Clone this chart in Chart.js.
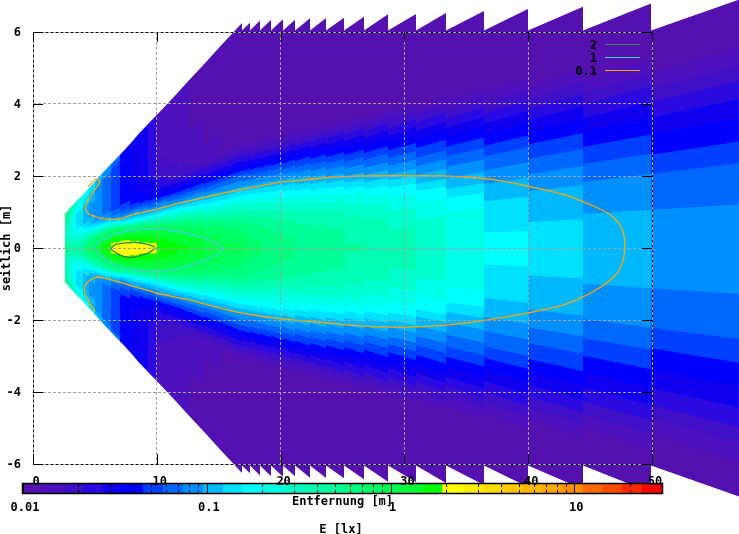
<!DOCTYPE html>
<html>
<head>
<meta charset="utf-8">
<title>Beleuchtungsstaerke</title>
<script src="https://cdn.jsdelivr.net/npm/chart.js@4/dist/chart.umd.min.js"></script>
<style>
    html, body { margin: 0; padding: 0; background: #fff; }
    canvas { display: block; }
</style>
</head>
<body>
<canvas id="lightChart" width="739" height="534"></canvas>
<script>
// column edges along the road [m]
const columnEdges = [2.55, 3, 3.5, 4, 4.5, 5, 5.6, 6.3, 7, 7.8, 8.6, 9.3, 10, 10.8, 11.6, 12.6, 13.8, 15.2, 16.9,
    17.5, 18.3, 19.2, 20.2, 21.2, 22.4, 23.7, 25.1, 26.7, 28.7, 30.9, 33.4, 36.4, 40, 44.4, 49.9, 57];

// rays y/x the columns are sampled on, the lower half is a bit wider than the upper
const raysUp = [0, .01, .02, .03, .04, .05, .06, .07, .08, .09, .10, .12, .14, .17, .20, .25, .30, .37];
const raysDown = [0, .011, .021, .032, .043, .054, .064, .075, .086, .096, .107, .128, .15, .182, .214, .267, .32, .37];

// E [lx] per column (one row = one column, one entry = one ray)
const luxByColumn = [
    [.55, .54, .52, .5, .48, .46, .44, .42, .4, .38, .36, .34, .33, .33, .34, .38, .45, .6],
    [.42, .41, .4, .38, .36, .34, .32, .3, .28, .27, .25, .23, .21, .2, .2, .21, .25, .38],
    [.45, .44, .42, .4, .38, .35, .32, .3, .27, .25, .23, .19, .165, .15, .14, .14, .17, .28],
    [.6, .58, .55, .52, .47, .43, .39, .35, .3, .26, .23, .17, .14, .118, .106, .103, .125, .2],
    [.85, .82, .78, .72, .65, .58, .5, .43, .36, .3, .25, .16, .12, .1, .09, .09, .105, .15],
    [1.22, 1.18, 1.1, 1, .88, .75, .62, .5, .4, .31, .24, .14, .1, .082, .075, .075, .085, .105],
    [1.65, 1.6, 1.45, 1.3, 1.15, 1, .85, .68, .52, .38, .27, .14, .09, .068, .06, .06, .068, .08],
    [2.25, 2.2, 2, 1.75, 1.5, 1.25, 1.03, .8, .58, .38, .24, .105, .07, .053, .048, .048, .052, .06],
    [2.45, 2.4, 2.2, 1.85, 1.5, 1.25, 1.05, .78, .5, .28, .16, .085, .06, .045, .04, .038, .04, .045],
    [2.4, 2.3, 2.05, 1.7, 1.4, 1.25, 1.03, .68, .4, .22, .14, .092, .05, .038, .033, .032, .03, .03],
    [2.15, 2.05, 1.85, 1.6, 1.35, 1.15, .9, .6, .36, .2, .13, .08, .047, .034, .03, .03, .028, .028],
    [2.05, 2, 1.8, 1.5, 1.27, 1.08, .82, .54, .33, .19, .125, .07, .045, .03, .027, .027, .026, .026],
    [1.8, 1.7, 1.55, 1.4, 1.25, 1.05, .75, .48, .3, .19, .125, .078, .04, .024, .019, .016, .015, .015],
    [1.65, 1.58, 1.42, 1.25, 1.07, .88, .65, .43, .28, .18, .125, .068, .038, .021, .017, .015, .014, .014],
    [1.52, 1.45, 1.32, 1.15, .97, .78, .58, .4, .27, .175, .12, .064, .036, .019, .015, .014, .013, .013],
    [1.35, 1.28, 1.15, 1, .85, .68, .5, .35, .24, .16, .115, .062, .034, .017, .014, .013, .012, .012],
    [1.15, 1.08, .98, .85, .71, .56, .42, .3, .21, .145, .105, .058, .032, .015, .013, .012, .011, .011],
    [.95, .9, .83, .74, .63, .5, .38, .28, .2, .14, .1, .058, .03, .013, .011, .01, .0094, .009],
    [.82, .78, .72, .645, .56, .45, .35, .265, .19, .135, .095, .055, .027, .012, .01, .0088, .008, .0078],
    [.76, .725, .666, .6, .525, .42, .33, .255, .18, .13, .092, .052, .025, .011, .0094, .0081, .0075, .0072],
    [.7, .67, .615, .55, .48, .39, .305, .24, .172, .122, .088, .048, .023, .01, .0085, .0074, .0068, .0065],
    [.65, .62, .565, .51, .44, .355, .28, .216, .16, .115, .082, .044, .021, .009, .0077, .0067, .0062, .0059],
    [.6, .57, .52, .47, .41, .33, .26, .196, .145, .107, .077, .04, .019, .0082, .007, .0061, .0056, .0054],
    [.55, .53, .49, .44, .38, .31, .24, .18, .13, .097, .069, .036, .017, .0074, .0063, .0055, .0051, .0048],
    [.5, .49, .46, .42, .36, .29, .225, .16, .117, .087, .062, .032, .015, .0066, .0057, .0049, .0045, .0043],
    [.47, .46, .44, .39, .34, .28, .21, .15, .104, .077, .055, .029, .0134, .0059, .005, .0044, .004, .0039],
    [.43, .42, .4, .36, .31, .25, .19, .13, .092, .069, .049, .025, .012, .0052, .0045, .0039, .0036, .0034],
    [.39, .38, .365, .33, .28, .22, .165, .115, .081, .06, .043, .022, .0104, .0046, .0039, .0034, .0031, .003],
    [.345, .34, .33, .285, .24, .195, .15, .098, .072, .052, .037, .019, .009, .0039, .0034, .0029, .0027, .0026],
    [.28, .275, .27, .25, .205, .165, .11, .084, .06, .045, .032, .0165, .0078, .0034, .0029, .0025, .0023, .0022],
    [.225, .222, .215, .203, .165, .12, .09, .07, .051, .038, .027, .014, .0066, .0029, .0025, .0021, .002, .0019],
    [.167, .159, .146, .132, .115, .093, .073, .058, .042, .032, .023, .012, .0055, .0024, .002, .0018, .0016, .0016],
    [.136, .13, .12, .108, .094, .076, .06, .047, .035, .026, .0185, .0095, .0045, .002, .0017, .0015, .0013, .0013],
    [.11, .105, .096, .087, .076, .061, .048, .038, .028, .021, .015, .0077, .0036, .0016, .0014, .0012, .0011, .001],
    [.085, .081, .075, .067, .059, .047, .038, .029, .022, .016, .012, .006, .003, .0012, .001, .001, .001, .001]
];

// contour lines, [x, y]
const contourTwo = [[6.3, 0], [6.7, .1], [7.5, .14], [8.2, .16], [9, .12], [9.6, .06], [9.8, 0], [9.6, -.08], [9, -.18],
    [8.2, -.25], [7.5, -.25], [6.9, -.17], [6.4, -.06], [6.3, 0]];
const contourOne = [[5, 0], [5.3, .15], [6, .3], [7, .42], [8, .5], [9, .53], [10, .53], [11, .5], [12, .45], [13, .37],
    [14, .26], [15, .1], [15.3, 0], [15, -.15], [14, -.33], [13, -.45], [12, -.55], [11, -.62], [10, -.65], [9, -.65],
    [8, -.6], [7, -.5], [6, -.35], [5.3, -.18], [5, 0]];
const contourTenth = [[4.45, 1.7], [5.1, 1.92], [5.4, 1.83], [4.8, 1.52], [4.4, 1.28], [4.2, 1.15], [4.4, .97], [5.5, .83],
    [6.8, .8], [8.2, .94], [10, 1.08], [11.5, 1.22], [12.7, 1.31], [13.5, 1.38], [16.2, 1.58], [20, 1.83], [21.6, 1.88],
    [24.3, 1.97], [26.7, 2], [29.7, 2.01], [33.1, 2], [36.1, 1.94], [37.7, 1.87], [40, 1.72], [42.9, 1.48], [45.3, 1.16],
    [46.5, .95], [47.3, .69], [47.7, .41], [47.8, 0], [47.6, -.42], [47, -.78], [45.3, -1.2], [42.9, -1.57], [40, -1.8],
    [36.1, -2.03], [33.1, -2.15], [29.7, -2.2], [26.7, -2.17], [24.3, -2.1], [21.6, -2.02], [19.1, -1.93], [15.9, -1.74],
    [12.7, -1.45], [10, -1.25], [7.8, -1.03], [5.6, -.82], [4.85, -.85], [4.2, -1.03], [4.2, -1.25], [4.6, -1.53], [5, -1.77]];

const legendLabels = ['2', '1', '0.1'];
const legendColors = ['#2e8b57', '#40d0d8', '#ffa500'];

// colour box: log range and the 32 steps of the palette
const cbMin = 0.01;
const cbMax = 30;
const cbColors = ['#5510b0', '#4c10bc', '#4010c8', '#2a0ae0', '#1000f0', '#0000ff', '#0040ff', '#0068ff', '#0090ff', '#00b8ff', '#00e0ff',
    '#00ffff', '#00ffe6', '#00ffcc', '#00ffb3', '#00ff99', '#00ff80', '#00ff66', '#00ff4d', '#00ff33', '#00ff00',
    '#ffff00', '#ffee00', '#ffdd00', '#ffc800', '#ffb800', '#ffa500', '#ff9000', '#ff6a00', '#ff4a00', '#ff2800', '#ff0000'];
const cbMajor = [0.01, 0.1, 1, 10];
const cbMinor = [0.02, 0.03, 0.04, 0.05, 0.06, 0.07, 0.08, 0.09, 0.2, 0.3, 0.4, 0.5, 0.6, 0.7, 0.8, 0.9,
    2, 3, 4, 5, 6, 7, 8, 9, 20, 30];

const monoFont = 'bold 12px "DejaVu Sans Mono"';
const topLimit = 6.04; // rows past this are dropped by the plot, gives the saw teeth

function colorFor(lux) {
    const t = Math.log10(Math.max(lux, cbMin) / cbMin) / Math.log10(cbMax / cbMin);
    return cbColors[Math.min(31, Math.floor(t * 32))];
}

// groups the ray samples of one column into colour bands, walking away from the axis
function columnBands(col, rays, topRay) {
    const lux = luxByColumn[col];
    const slices = 16;
    const bands = [];
    for (let j = 0; j < rays.length - 1; j++) {
        for (let s = 0; s < slices; s++) {
            const f = (s + 0.5) / slices;
            const k0 = rays[j] + (rays[j + 1] - rays[j]) * s / slices;
            const k1 = Math.min(topRay, rays[j] + (rays[j + 1] - rays[j]) * (s + 1) / slices);
            if (k0 >= topRay) continue;
            const color = colorFor(Math.exp(Math.log(lux[j]) * (1 - f) + Math.log(lux[j + 1]) * f));
            if (bands.length && bands[bands.length - 1].color === color) bands[bands.length - 1].k = k1;
            else bands.push({ color: color, k: k1 });
        }
    }
    return bands;
}

// paints from the outer band inwards so no seams show between the bands
function drawColumn(ctx, xScale, yScale, col, rays, sign) {
    const x0 = columnEdges[col], x1 = columnEdges[col + 1];
    const px0 = Math.round(xScale.getPixelForValue(x0)), px1 = Math.round(xScale.getPixelForValue(x1));
    const zero = yScale.getPixelForValue(0) + sign;
    const topRay = Math.min(rays[rays.length - 1], topLimit / x0);
    const bands = columnBands(col, rays, topRay);
    for (let b = bands.length - 1; b >= 0; b--) {
        ctx.fillStyle = bands[b].color;
        ctx.beginPath();
        ctx.moveTo(px0, zero);
        ctx.lineTo(px1, zero);
        ctx.lineTo(px1, yScale.getPixelForValue(sign * bands[b].k * x1));
        ctx.lineTo(px0, yScale.getPixelForValue(sign * bands[b].k * x0));
        ctx.closePath();
        ctx.fill();
    }
}

const heatmapPlugin = {
    id: 'heatmap',
    beforeDatasetsDraw(chart) {
        const { ctx, scales: { x, y } } = chart;
        ctx.save();
        for (let col = 0; col < luxByColumn.length; col++) {
            drawColumn(ctx, x, y, col, raysUp, 1);
            drawColumn(ctx, x, y, col, raysDown, -1);
        }
        ctx.restore();
    }
};

const framePlugin = {
    id: 'frame',
    afterDatasetsDraw(chart) {
        const { ctx, chartArea: a } = chart;
        ctx.save();
        ctx.strokeStyle = '#000';
        ctx.lineWidth = 1;
        ctx.strokeRect(a.left + 0.5, a.top + 0.5, a.right - a.left, a.bottom - a.top);

        // colour box under the plot
        const barLeft = 23, barWidth = 639, barTop = 484, barHeight = 9;
        const barX = function (v) { return barLeft + barWidth * Math.log10(v / cbMin) / Math.log10(cbMax / cbMin); };
        cbColors.forEach(function (c, i) {
            ctx.fillStyle = c;
            ctx.fillRect(barLeft + barWidth * i / 32, barTop, barWidth / 32 + 0.5, barHeight);
        });
        ctx.beginPath();
        cbMinor.forEach(function (v) {
            const p = Math.round(barX(v)) + 0.5;
            ctx.moveTo(p, barTop); ctx.lineTo(p, barTop + 3);
            ctx.moveTo(p, barTop + barHeight); ctx.lineTo(p, barTop + barHeight - 3);
        });
        cbMajor.forEach(function (v) {
            const p = Math.round(barX(v)) + 0.5;
            ctx.moveTo(p, barTop); ctx.lineTo(p, barTop + barHeight);
        });
        ctx.stroke();
        ctx.lineWidth = 1.5;
        ctx.strokeRect(barLeft - 0.5, barTop - 0.5, barWidth + 1, barHeight + 1);

        ctx.fillStyle = '#000';
        ctx.font = monoFont;
        ctx.textAlign = 'center';
        ctx.textBaseline = 'middle';
        cbMajor.forEach(function (v) {
            ctx.fillText(String(v), barX(v) + 2, 508);
        });
        ctx.fillText('E [lx]', 341, 530);
        ctx.restore();
    },
    afterDraw(chart) {
        const { ctx, chartArea: a, scales: { x, y } } = chart;
        ctx.save();
        // inward ticks sit over the grid
        ctx.strokeStyle = '#000';
        ctx.lineWidth = 1;
        ctx.beginPath();
        x.ticks.forEach(function (t) {
            const p = Math.round(x.getPixelForValue(t.value)) + 0.5;
            ctx.moveTo(p, a.top); ctx.lineTo(p, a.top + 10);
            ctx.moveTo(p, a.bottom); ctx.lineTo(p, a.bottom - 10);
        });
        y.ticks.forEach(function (t) {
            const p = Math.round(y.getPixelForValue(t.value)) + 0.5;
            ctx.moveTo(a.left, p); ctx.lineTo(a.left + 10, p);
            ctx.moveTo(a.right, p); ctx.lineTo(a.right - 10, p);
        });
        ctx.stroke();

        ctx.font = monoFont;
        ctx.textBaseline = 'middle';
        ctx.textAlign = 'right';
        legendLabels.forEach(function (label, i) {
            const rowY = 45 + i * 13;
            ctx.fillStyle = '#000';
            ctx.fillText(label, 597, rowY + 1);
            ctx.strokeStyle = legendColors[i];
            ctx.lineWidth = 1;
            ctx.beginPath();
            ctx.moveTo(605, rowY - 0.5);
            ctx.lineTo(640, rowY - 0.5);
            ctx.stroke();
        });
        ctx.restore();
    }
};

function toPoints(list) {
    return list.map(function (p) { return { x: p[0], y: p[1] }; });
}

function contourDataset(label, list, color) {
    return { label: label, data: toPoints(list), showLine: true, tension: 0.25, borderColor: color, borderWidth: 1.3, pointRadius: 0, fill: false };
}

const axisFont = { family: 'DejaVu Sans Mono', size: 12, weight: 'bold' };

new Chart(document.getElementById('lightChart').getContext('2d'), {
    type: 'scatter',
    data: {
        datasets: [
            contourDataset(legendLabels[0], contourTwo, legendColors[0]),
            contourDataset(legendLabels[1], contourOne, legendColors[1]),
            contourDataset(legendLabels[2], contourTenth, legendColors[2])
        ]
    },
    options: {
        responsive: false,
        animation: false,
        layout: { padding: { left: 0, top: 32, right: 87, bottom: 0 } },
        plugins: { legend: { display: false }, tooltip: { enabled: false } },
        scales: {
            x: {
                type: 'linear',
                min: 0,
                max: 50,
                afterFit: function (s) { s.height = 70; },
                grid: { color: '#a0a0a0', z: 1, drawTicks: false },
                border: { display: false, dash: [3, 2] },
                ticks: { stepSize: 10, color: '#000', font: axisFont, padding: 11, labelOffset: 3, maxRotation: 0, z: 2 },
                title: { display: true, text: 'Entfernung [m]', color: '#000', font: axisFont, padding: { top: 0, bottom: 25 } }
            },
            y: {
                type: 'linear',
                min: -6,
                max: 6,
                afterFit: function (s) { s.width = 33; },
                grid: { color: '#a0a0a0', z: 1, drawTicks: false },
                border: { display: false, dash: [3, 2] },
                ticks: { stepSize: 2, color: '#000', font: axisFont, padding: 12, labelOffset: 1, z: 2 },
                title: { display: true, text: 'seitlich [m]', color: '#000', font: axisFont, padding: 0 }
            }
        }
    },
    plugins: [heatmapPlugin, framePlugin]
});
</script>
</body>
</html>
